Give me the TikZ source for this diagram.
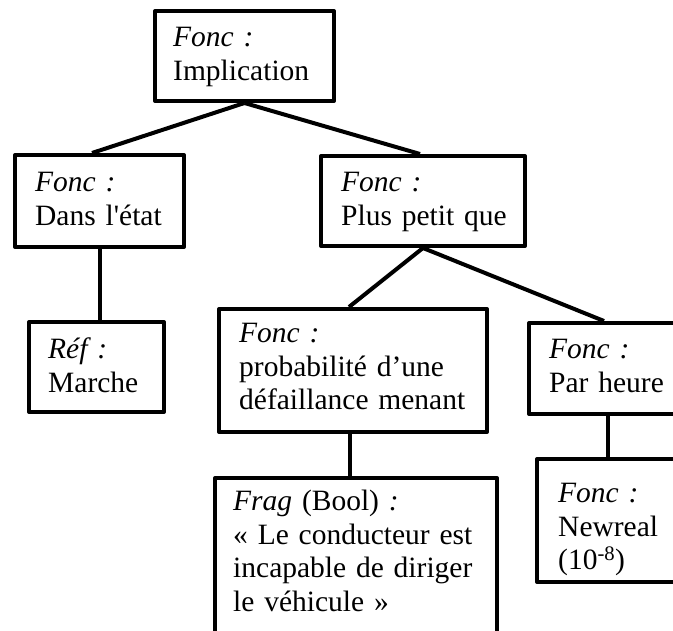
\documentclass[tikz,border=0pt]{standalone}
\usepackage{fontspec}
\setmainfont{Liberation Serif}[Ligatures=TeXOff]
\tikzset{
  box/.style={draw, line width=4pt, rectangle, inner sep=0pt, anchor=north west, line join=round},
  txt/.style={anchor=base west, inner sep=0pt, align=left, text width=#1, font=\fontsize{29.5}{33.5}\selectfont},
  link/.style={line width=4pt},
}
\begin{document}
\begin{tikzpicture}[x=1pt,y=1pt]
\useasboundingbox (0,0) rectangle (673,631);
\clip (0,0) rectangle (673,631);
% boxes
\node[box, minimum width=179pt, minimum height=90pt] (A) at (153,622) {};
\node[txt=155pt] (At) at (173,584) {\textit{Fonc :}\\Implication};
\node[box, minimum width=169pt, minimum height=92pt] (B) at (13,478) {};
\node[txt=150pt] (Bt) at (35,439) {\textit{Fonc :}\\Dans l'état};
\node[box, minimum width=204pt, minimum height=90pt] (C) at (319,477) {};
\node[txt=185pt] (Ct) at (341,439) {\textit{Fonc :}\\Plus petit que};
\node[box, minimum width=135pt, minimum height=90pt] (D) at (27,311) {};
\node[txt=120pt] (Dt) at (48,272) {\textit{Réf :}\\Marche};
\node[box, minimum width=268pt, minimum height=123pt] (E) at (217,324) {};
\node[txt=250pt] (Et) at (239,288) {\textit{Fonc :}\\probabilité d’une\\défaillance menant};
\node[box, minimum width=180pt, minimum height=91pt] (F) at (527,310) {};
\node[txt=140pt] (Ft) at (549,272) {\textit{Fonc :}\\Par heure};
\node[box, minimum width=170pt, minimum height=123pt] (G) at (535,174) {};
\node[txt=130pt] (Gt) at (558,128) {\textit{Fonc :}\\Newreal\\(10\textsuperscript{-8})};
\node[box, minimum width=282pt, minimum height=170pt] (H) at (213,155) {};
\node[txt=270pt] (Ht) at (233,120) {\textit{Frag} (Bool) \textit{:}\\« Le conducteur est\\incapable de diriger\\le véhicule »};
% connectors
\draw[link] (A.south) -- ([xshift=-7.5pt]B.north);
\draw[link] (A.south) -- ([xshift=-3pt]C.north);
\draw[link] (B.south) -- (B.south |- D.north);
\draw[link] (C.south) -- ([xshift=-4pt]E.north);
\draw[link] (C.south) -- ([xshift=-15pt]F.north);
\draw[link] ([xshift=-3pt]E.south) -- ([xshift=-3pt]E.south |- H.north);
\draw[link] ([xshift=-11pt]F.south) -- ([xshift=-11pt]F.south |- G.north);
\end{tikzpicture}
\end{document}
